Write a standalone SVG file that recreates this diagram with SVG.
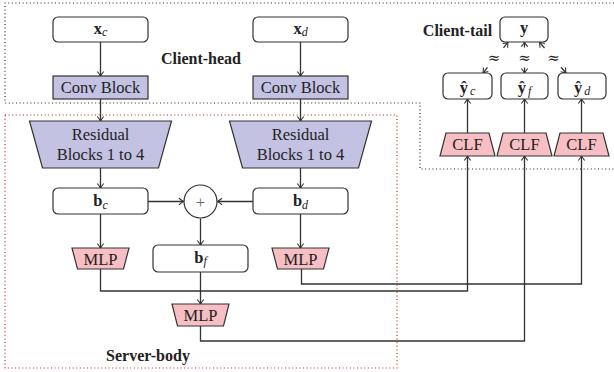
<svg xmlns="http://www.w3.org/2000/svg" width="614" height="372" viewBox="0 0 614 372">
<style>
text{font-family:"Liberation Serif","Times New Roman",serif;fill:#222;font-size:16.5px}
.lbl{font-weight:bold;font-size:16px}
.box{fill:#fff;stroke:#333;stroke-width:1.2}
.blue{fill:#c4c2e2;stroke:#333;stroke-width:1.2}
.pink{fill:#f7bfc3;stroke:#333;stroke-width:1.2}
.ln{fill:none;stroke:#333;stroke-width:1.3}
.arr{fill:none;stroke:#333;stroke-width:1.3;marker-end:url(#ah)}
.b{font-weight:bold}
.s{font-style:italic;font-size:12px}
.ap{font-family:"DejaVu Serif","DejaVu Sans",serif;font-size:15px}
</style>
<defs>
<marker id="ah" markerUnits="userSpaceOnUse" markerWidth="10" markerHeight="10" viewBox="-6 -5 8 10" refX="0" refY="0" orient="auto">
<path d="M-4.5,-3.2 Q-1.2,-0.6 0,0 Q-1.2,0.6 -4.5,3.2" fill="none" stroke="#333" stroke-width="1.1"/>
</marker>
</defs>
<g id="regions">
<path d="M614,3 L5,3 L5,103 L420,103 L420,169 L614,169" fill="none" stroke="#222" stroke-width="1.2" stroke-dasharray="1 2.6"/>
<rect x="5" y="115" width="392" height="253" fill="none" stroke="#e0141e" stroke-width="1.2" stroke-dasharray="1 2.6"/>
<text class="lbl" x="201" y="64" text-anchor="middle">Client-head</text>
<text class="lbl" x="457.5" y="36" text-anchor="middle">Client-tail</text>
<text class="lbl" x="148" y="361" text-anchor="middle">Server-body</text>
</g>
<g id="connectors">
<path class="arr" d="M100.5,42 V76"/>
<path class="arr" d="M300.5,42 V76"/>
<path class="arr" d="M100.5,99 V121"/>
<path class="arr" d="M300.5,99 V121"/>
<path class="arr" d="M100.5,168 V188"/>
<path class="arr" d="M300.5,168 V188"/>
<path class="arr" d="M148,201.5 H183.5"/>
<path class="arr" d="M253,201.5 H217.5"/>
<path class="arr" d="M200.5,218.5 V245"/>
<path class="arr" d="M100.5,214 V248"/>
<path class="arr" d="M300.5,214 V248"/>
<path class="arr" d="M200.5,272 V304"/>
<path class="arr" d="M100.5,269 V291 H467.5 V156"/>
<path class="arr" d="M301.5,269 V284 H581.5 V156"/>
<path class="arr" d="M200.5,326 V341 H524.5 V156"/>
<path class="arr" d="M467.5,133 V99"/>
<path class="arr" d="M524.5,133 V99"/>
<path class="arr" d="M581.5,133 V99"/>
<path class="arr" d="M503.5,47.8 L508,42.2"/>
<path class="arr" d="M487.5,67.4 L483,73"/>
<path class="arr" d="M524.5,47.5 V42.2"/>
<path class="arr" d="M524.5,67.5 V73"/>
<path class="arr" d="M544.5,48 L539.5,42.2"/>
<path class="arr" d="M561,67.3 L566,73"/>
<text class="ap" x="494" y="63" text-anchor="middle">≈</text>
<text class="ap" x="524.5" y="63" text-anchor="middle">≈</text>
<text class="ap" x="553.5" y="63" text-anchor="middle">≈</text>
</g>
<g id="xc"><rect class="box" x="53" y="17" width="95" height="25" rx="5"/><text x="100.5" y="33.5" text-anchor="middle"><tspan class="b">x</tspan><tspan class="s" dy="2.5">c</tspan></text></g>
<g id="xd"><rect class="box" x="253" y="17" width="95" height="25" rx="5"/><text x="300.5" y="33.5" text-anchor="middle"><tspan class="b">x</tspan><tspan class="s" dy="2.5">d</tspan></text></g>
<g id="conv-c"><rect class="blue" x="53" y="76" width="95" height="23"/><text x="100.5" y="93.3" text-anchor="middle">Conv Block</text></g>
<g id="conv-d"><rect class="blue" x="253" y="76" width="95" height="23"/><text x="300.5" y="93.3" text-anchor="middle">Conv Block</text></g>
<g id="res-c"><polygon class="blue" points="29.5,121 171.5,121 158.5,168 42.5,168"/><text x="100.5" y="140" text-anchor="middle">Residual</text><text x="100.5" y="160" text-anchor="middle">Blocks 1 to 4</text></g>
<g id="res-d"><polygon class="blue" points="229.5,121 371.5,121 358.5,168 242.5,168"/><text x="300.5" y="140" text-anchor="middle">Residual</text><text x="300.5" y="160" text-anchor="middle">Blocks 1 to 4</text></g>
<g id="bc"><rect class="box" x="53" y="188" width="95" height="26" rx="5"/><text x="100.5" y="206" text-anchor="middle"><tspan class="b">b</tspan><tspan class="s" dy="2.5">c</tspan></text></g>
<g id="bd"><rect class="box" x="253" y="188" width="95" height="26" rx="5"/><text x="300.5" y="206" text-anchor="middle"><tspan class="b">b</tspan><tspan class="s" dy="2.5">d</tspan></text></g>
<g id="plus"><circle class="box" cx="200.5" cy="201.5" r="16.5"/><text x="200.5" y="207.5" text-anchor="middle" style="fill:#666" font-size="18">+</text></g>
<g id="bf"><rect class="box" x="153" y="245" width="95" height="27" rx="5"/><text x="200.5" y="262.5" text-anchor="middle"><tspan class="b">b</tspan><tspan class="s" dy="2.5">f</tspan></text></g>
<g id="mlp-c"><polygon class="pink" points="72,248 129,248 123.5,269 77.5,269"/><text x="100.5" y="265" text-anchor="middle">MLP</text></g>
<g id="mlp-d"><polygon class="pink" points="272,248 329,248 323.5,269 277.5,269"/><text x="300.5" y="265" text-anchor="middle">MLP</text></g>
<g id="mlp-f"><polygon class="pink" points="172,304 229,304 223.5,326 177.5,326"/><text x="200.5" y="320.5" text-anchor="middle">MLP</text></g>
<g id="clf-c"><polygon class="pink" points="446,133 489,133 495,156 440,156"/><text x="467.5" y="150" text-anchor="middle">CLF</text></g>
<g id="clf-f"><polygon class="pink" points="503,133 546,133 552,156 497,156"/><text x="524.5" y="150" text-anchor="middle">CLF</text></g>
<g id="clf-d"><polygon class="pink" points="560,133 603,133 609,156 554,156"/><text x="581.5" y="150" text-anchor="middle">CLF</text></g>
<g id="yhat-c"><rect class="box" x="443" y="73" width="49" height="26" rx="5"/><text x="467.5" y="93" text-anchor="middle"><tspan class="b">ŷ</tspan><tspan class="s" dx="2" dy="1.5">c</tspan></text></g>
<g id="yhat-f"><rect class="box" x="501" y="73" width="47" height="26" rx="5"/><text x="524.5" y="93" text-anchor="middle"><tspan class="b">ŷ</tspan><tspan class="s" dx="2" dy="1.5">f</tspan></text></g>
<g id="yhat-d"><rect class="box" x="558" y="73" width="48" height="26" rx="5"/><text x="582" y="93" text-anchor="middle"><tspan class="b">ŷ</tspan><tspan class="s" dx="2" dy="1.5">d</tspan></text></g>
<g id="y"><rect class="box" x="500" y="17" width="48" height="25" rx="5"/><text x="524" y="33" text-anchor="middle" class="b">y</text></g>
</svg>
